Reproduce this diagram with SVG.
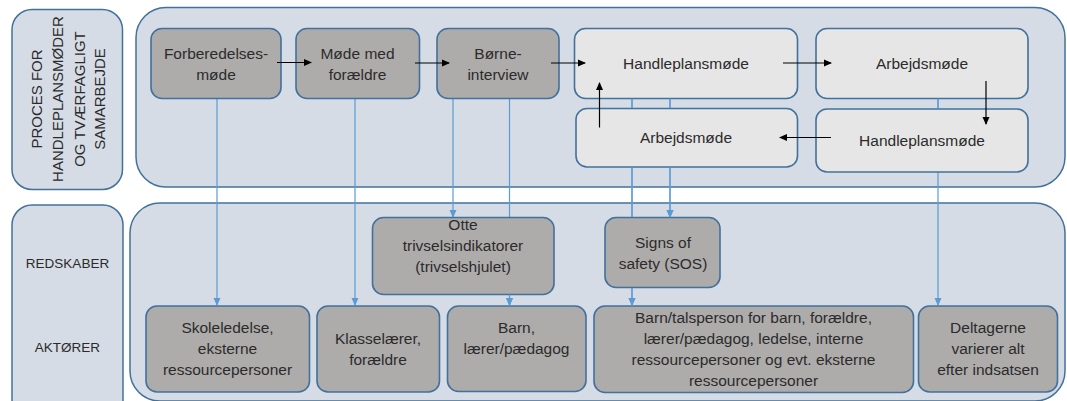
<svg xmlns="http://www.w3.org/2000/svg" width="1067" height="401" viewBox="0 0 1067 401">
<style>
.panel{fill:#D6DCE5;stroke:#41719C;stroke-width:1.5}
.dark{fill:#AEABAB;stroke:#41719C;stroke-width:1.6}
.light{fill:#E7E6E6;stroke:#41719C;stroke-width:1.6}
text{font-family:"Liberation Sans",Arial,sans-serif;font-size:15.5px;fill:#2b2b2b;text-anchor:middle}
.side{font-size:13.5px}
.vert{font-size:15px}
.blue{stroke:#5B9BD5;stroke-width:1.2;fill:none}
.blk{stroke:#000;stroke-width:1.2;fill:none}
</style>
<defs>
<marker id="ab" markerWidth="8" markerHeight="8" refX="7" refY="4" orient="auto" markerUnits="userSpaceOnUse"><path d="M0,0.5 L8,4 L0,7.5 Z" fill="#000"/></marker>
<marker id="bb" markerWidth="8" markerHeight="8" refX="7" refY="4" orient="auto" markerUnits="userSpaceOnUse"><path d="M0,0.5 L8,4 L0,7.5 Z" fill="#5B9BD5"/></marker>
</defs>
<rect width="1067" height="401" fill="#fff"/>
<g id="panels">
<rect id="side-top" class="panel" x="12" y="9.5" width="110.5" height="180" rx="20"/>
<rect id="main-top" class="panel" x="136" y="7.5" width="929" height="179.5" rx="30"/>
<rect id="side-bottom" class="panel" x="12" y="205" width="111" height="215" rx="20"/>
<rect id="main-bottom" class="panel" x="130" y="203" width="935" height="198" rx="30"/>
</g>
<g id="side-labels">
<text class="vert" transform="translate(41.5,99) rotate(-90)">PROCES FOR</text>
<text class="vert" transform="translate(63,99) rotate(-90)">HANDLEPLANSMØDER</text>
<text class="vert" transform="translate(84.5,99) rotate(-90)">OG TVÆRFAGLIGT</text>
<text class="vert" transform="translate(105,99) rotate(-90)">SAMARBEJDE</text>
<text class="side" x="67.5" y="268">REDSKABER</text>
<text class="side" x="67.5" y="352">AKTØRER</text>
</g>
<g id="connectors-under">
<line class="blue" x1="217" y1="98" x2="217" y2="305" marker-end="url(#bb)"/>
<line class="blue" x1="355" y1="98" x2="355" y2="305" marker-end="url(#bb)"/>
<line class="blue" x1="453" y1="98" x2="453" y2="217" marker-end="url(#bb)"/>
<line class="blue" x1="509.5" y1="98" x2="509.5" y2="305" marker-end="url(#bb)"/>
<line class="blue" x1="632" y1="98" x2="632" y2="305" marker-end="url(#bb)"/>
<line class="blue" x1="670" y1="98" x2="670" y2="217" marker-end="url(#bb)"/>
<line class="blue" x1="938" y1="98" x2="938" y2="305" marker-end="url(#bb)"/>
</g>
<g id="n-forb"><rect class="dark" x="151" y="28.5" width="130" height="70" rx="11"/><text x="216" y="59">Forberedelses-</text><text x="216" y="80">møde</text></g>
<g id="n-mode"><rect class="dark" x="296" y="28.5" width="123.5" height="70" rx="11"/><text x="357.5" y="59">Møde med</text><text x="357.5" y="80">forældre</text></g>
<g id="n-born"><rect class="dark" x="437" y="28.5" width="122" height="70" rx="11"/><text x="498" y="59">Børne-</text><text x="498" y="80">interview</text></g>
<g id="n-hpm1"><rect class="light" x="574.5" y="28.5" width="223" height="70" rx="11"/><text x="686" y="69">Handleplansmøde</text></g>
<g id="n-arb1"><rect class="light" x="816" y="28.5" width="212" height="70" rx="11"/><text x="922" y="69">Arbejdsmøde</text></g>
<g id="n-arb2"><rect class="light" x="576" y="108.5" width="221.5" height="58.5" rx="11"/><text x="686" y="143">Arbejdsmøde</text></g>
<g id="n-hpm2"><rect class="light" x="816" y="109" width="212" height="63" rx="11"/><text x="922" y="146">Handleplansmøde</text></g>
<g id="n-otte"><rect class="dark" x="372.5" y="217.5" width="181.5" height="77" rx="11"/><text x="463" y="230">Otte</text><text x="463" y="251">trivselsindikatorer</text><text x="463" y="272">(trivselshjulet)</text></g>
<g id="n-sos"><rect class="dark" x="605" y="217.5" width="115" height="70" rx="11"/><text x="663" y="248">Signs of</text><text x="663" y="269">safety (SOS)</text></g>
<g id="n-skole"><rect class="dark" x="146" y="306" width="163.5" height="86" rx="11"/><text x="227.5" y="333">Skoleledelse,</text><text x="227.5" y="354">eksterne</text><text x="227.5" y="375">ressourcepersoner</text></g>
<g id="n-klasse"><rect class="dark" x="317" y="306" width="122.5" height="86" rx="11"/><text x="378" y="344">Klasselærer,</text><text x="378" y="365">forældre</text></g>
<g id="n-barn"><rect class="dark" x="447.5" y="306" width="138.5" height="85.5" rx="11"/><text x="516.5" y="333">Barn,</text><text x="516.5" y="354">lærer/pædagog</text></g>
<g id="n-tals"><rect class="dark" x="594" y="306" width="319.5" height="86.5" rx="11"/><text x="753.5" y="323">Barn/talsperson for barn, forældre,</text><text x="753.5" y="344">lærer/pædagog, ledelse, interne</text><text x="753.5" y="365">ressourcepersoner og evt. eksterne</text><text x="753.5" y="386">ressourcepersoner</text></g>
<g id="n-delt"><rect class="dark" x="918.5" y="306" width="139" height="86" rx="11"/><text x="988" y="333">Deltagerne</text><text x="988" y="354">varierer alt</text><text x="988" y="375">efter indsatsen</text></g>
<g id="connectors">
<line class="blk" x1="277" y1="62.5" x2="311" y2="62.5" marker-end="url(#ab)"/>
<line class="blk" x1="415" y1="63" x2="449" y2="63" marker-end="url(#ab)"/>
<line class="blk" x1="551" y1="63" x2="585" y2="63" marker-end="url(#ab)"/>
<line class="blk" x1="783" y1="63" x2="831" y2="63" marker-end="url(#ab)"/>
<line class="blk" x1="986" y1="81" x2="986" y2="124" marker-end="url(#ab)"/>
<line class="blk" x1="831" y1="137.5" x2="780" y2="137.5" marker-end="url(#ab)"/>
<line class="blk" x1="599.5" y1="127.5" x2="599.5" y2="83" marker-end="url(#ab)"/>
<line class="blue" x1="509.5" y1="294.5" x2="509.5" y2="305" marker-end="url(#bb)"/>
<line class="blue" x1="632" y1="98.5" x2="632" y2="108"/>
<line class="blue" x1="670" y1="98.5" x2="670" y2="108"/>
<line class="blue" x1="632" y1="167" x2="632" y2="217"/>
<line class="blue" x1="670" y1="167" x2="670" y2="217" marker-end="url(#bb)"/>
<line class="blue" x1="632" y1="288" x2="632" y2="305" marker-end="url(#bb)"/>
<line class="blue" x1="938" y1="98.5" x2="938" y2="108.5"/>
</g>
</svg>
